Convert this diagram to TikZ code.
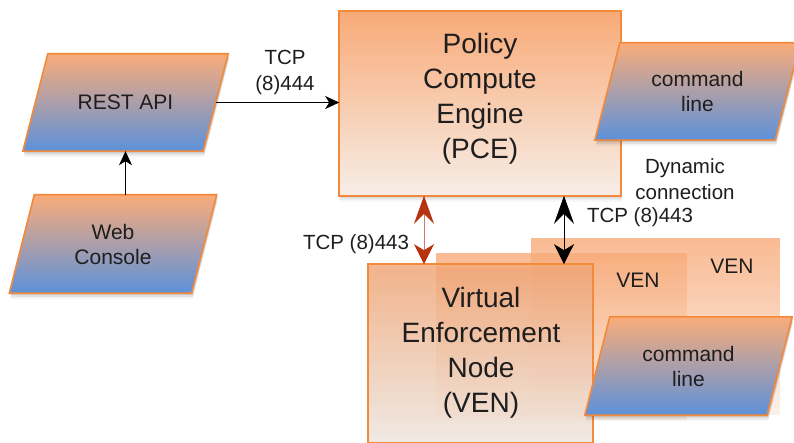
\documentclass[tikz,border=0pt]{standalone}
\usepackage{fontspec}
\setmainfont{Liberation Sans}
\usetikzlibrary{arrows.meta}
\pgfdeclarelayer{bg}
\pgfdeclarelayer{boxes}
\pgfdeclarelayer{paras}
\pgfsetlayers{bg,boxes,paras,main}
\definecolor{ob}{RGB}{243,137,58}
\definecolor{ot}{RGB}{248,170,120}
\definecolor{wt}{RGB}{247,238,231}
\definecolor{pt}{RGB}{250,172,122}
\definecolor{pm}{RGB}{210,162,182}
\definecolor{pb}{RGB}{92,145,218}
\definecolor{tc}{RGB}{30,30,30}
\definecolor{rlight}{RGB}{214,120,100}
\definecolor{rdark}{RGB}{183,50,15}
\definecolor{bm}{RGB}{238,172,128}
\definecolor{bb}{RGB}{250,238,230}
\newcommand\myparashape[1]{%
  \begin{pgfonlayer}{paras}
  \foreach \s/\o in {2/0.10,4/0.07,6/0.04}{
  \fill[black, opacity=\o] ([xshift=12.5pt+1pt,yshift=-\s pt]#1.north west) -- ([xshift=12.5pt+1pt,yshift=-\s pt]#1.north east)
     -- ([xshift=-12.5pt+1pt,yshift=-\s pt]#1.south east) -- ([xshift=-12.5pt+1pt,yshift=-\s pt]#1.south west) -- cycle;}
  \shade[parafill] ([xshift=12.5pt]#1.north west) -- ([xshift=12.5pt]#1.north east)
     -- ([xshift=-12.5pt]#1.south east) -- ([xshift=-12.5pt]#1.south west) -- cycle;
  \end{pgfonlayer}}
\newcommand\myrectshape[2]{%
  \begin{pgfonlayer}{boxes}
  \foreach \s/\o in {2/0.08,4/0.05,6/0.03}{
  \fill[black, opacity=\o] ([xshift=1pt,yshift=-\s pt]#1.north west) rectangle ([xshift=1pt,yshift=-\s pt]#1.south east);}
  \shade[#2] (#1.north west) rectangle (#1.south east);
  \end{pgfonlayer}}
\newcommand\myflatshape[2]{%
  \begin{pgfonlayer}{boxes}
  \shade[#2] (#1.north west) rectangle (#1.south east);
  \end{pgfonlayer}}
\begin{document}
\begin{tikzpicture}[x=1pt,y=-1pt,
  txt/.style={text=tc, align=center, inner sep=0pt},
  big/.style={txt, font=\fontsize{28pt}{35pt}\selectfont},
  mid/.style={txt, font=\fontsize{21pt}{25pt}\selectfont},
  lbl/.style={txt, font=\fontsize{20.5pt}{26pt}\selectfont},
  slot/.style={inner sep=0pt, outer sep=0.8pt},
  boxfill/.style={draw=ob, line width=1.6pt, top color=ot, bottom color=wt},
  venfill/.style={draw=ob, line width=1.6pt, top color=ot, bottom color=wt, fill opacity=0.8},
  backfill/.style={top color=ot, middle color=bm, bottom color=bb, fill opacity=0.8},
  paranode/.style={mid},
  parafill/.style={draw=ob, line width=1.6pt, top color=pt, middle color=pm, bottom color=pb},
  arr/.style={-{Stealth[length=14pt,width=13pt,inset=4pt]}, line width=0.8pt, draw=black},
  dbl/.style={{Stealth[length=28pt,width=20pt,inset=10pt]}-{Stealth[length=20pt,width=20pt,inset=6pt]}, line width=0.8pt},
  rdbl/.style={{Stealth[length=28pt,width=20pt,inset=10pt,color=rdark]}-{Stealth[length=20pt,width=20pt,inset=6pt,color=rdark]}, line width=0.8pt, draw=rlight}
]
\useasboundingbox (0,0) rectangle (794,443);
\begin{pgfonlayer}{bg}
\fill[white] (0,0) rectangle (794,443);
\end{pgfonlayer}

% boxes
\node[slot, minimum width=247pt, minimum height=175pt] (ven3) at (655.5,326.5) {};
\myflatshape{ven3}{backfill}
\node[slot, minimum width=249pt, minimum height=165pt] (ven2) at (561.5,336.5) {};
\myflatshape{ven2}{backfill}
\node[slot, minimum width=223pt, minimum height=177pt] (ven) at (480.5,353.5) {};
\myrectshape{ven}{venfill}
\node[slot, minimum width=280pt, minimum height=183pt] (pce) at (480,103.5) {};
\myrectshape{pce}{boxfill}

\node[mid] (ven3t) at (732,266) {VEN};
\node[mid] (ven2t) at (638,280) {VEN};
\node[big] (pcet) at (480,98.5) {Policy\\Compute\\Engine\\(PCE)};
\node[big] (vent) at (481,352.5) {Virtual\\Enforcement\\Node\\(VEN)};

% parallelograms
\node[paranode, minimum width=180pt, minimum height=97pt] (rest) at (125.5,102.5) {REST API};
\myparashape{rest}
\node[paranode, minimum width=182pt, minimum height=98pt] (web) at (113,244) {Web\\Console};
\myparashape{web}
\node[paranode, minimum width=180pt, minimum height=97pt] (cmd1) at (697.5,91.5) {command\\line};
\myparashape{cmd1}
\node[paranode, minimum width=182pt, minimum height=98pt] (cmd2) at (688.5,366) {command\\line};
\myparashape{cmd2}

% connectors
\draw[arr] (web.north -| rest.south) -- (rest.south);
\draw[arr] (rest.east) -- (rest.east -| pce.west);
\coordinate (rx) at (424,0);
\coordinate (bx) at (564,0);
\draw[rdbl] (rx |- pce.south) -- (rx |- ven.north);
\draw[dbl] (bx |- pce.south) -- (bx |- ven.north);

% labels
\node[lbl] (l444) at (285,72) {TCP\\(8)444};
\node[lbl] (l443a) at (356,244) {TCP (8)443};
\node[lbl] (l443b) at (640,217) {TCP (8)443};
\node[lbl] (ldyn) at (685,179) {Dynamic\\connection};
\end{tikzpicture}
\end{document}
